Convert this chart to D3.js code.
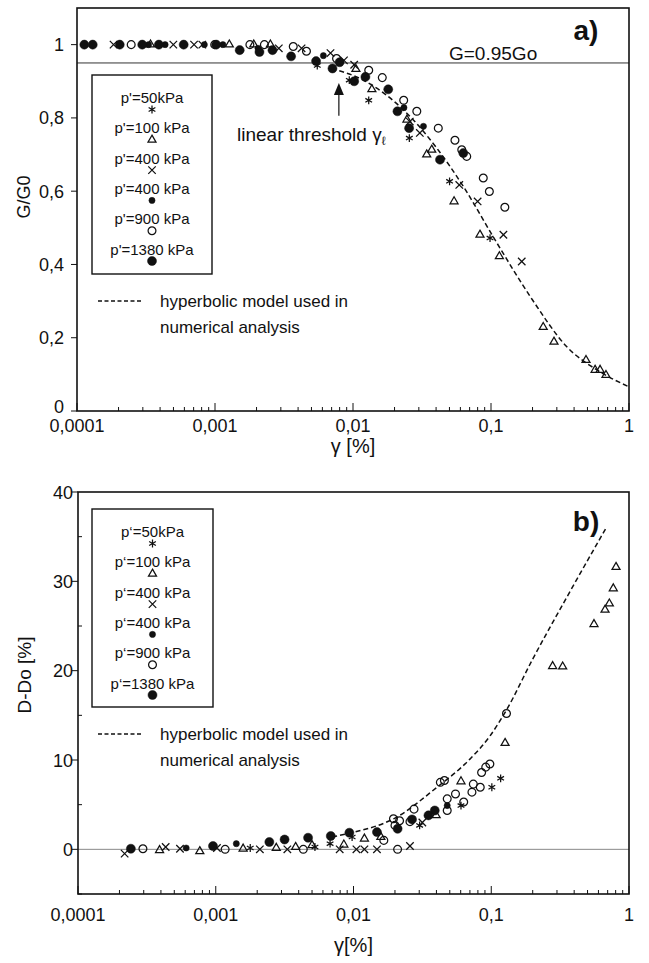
<!DOCTYPE html>
<html>
<head>
<meta charset="utf-8">
<script src="https://cdn.jsdelivr.net/npm/d3@7"></script>
<style>
body{margin:0;background:#fff}
svg{display:block}
</style>
</head>
<body>
<div id="viz"></div>
<script>
//Chart data (gamma in %)

let xTickValues = [0.0001, 0.001, 0.01, 0.1, 1]
let xTickLabels = ["0,0001", "0,001", "0,01", "0,1", "1"]

let legendA = ["p'=50kPa", "p'=100 kPa", "p'=400 kPa", "p'=400 kPa", "p'=900 kPa", "p'=1380 kPa"]
let legendB = ["p\u2018=50kPa", "p\u2018=100 kPa", "p\u2018=400 kPa", "p\u2018=400 kPa", "p\u2018=900 kPa", "p\u2018=1380 kPa"]
let markerTypes = ["asterisk", "triangle", "times", "dotSmall", "circle", "dotBig"]

// a) G/G0
let gTicks = [0, 0.2, 0.4, 0.6, 0.8, 1]
let gTickLabels = ["0", "0,2", "0,4", "0,6", "0,8", "1"]

let gg50 = [[0.000204,1.0],[0.00551,0.943],[0.0094,0.903],[0.013,0.848],[0.0256,0.745],[0.0501,0.627],[0.0984,0.472]]
let gg100 = [[0.000341,1.0],[0.00127,1.0],[0.00191,1.0],[0.00252,1.0],[0.0105,0.933],[0.0137,0.878],[0.0246,0.795],[0.0342,0.70],
             [0.0372,0.713],[0.054,0.572],[0.0832,0.481],[0.115,0.422],[0.239,0.229],[0.286,0.189],[0.488,0.139],[0.568,0.112],[0.617,0.112],[0.681,0.098]]
let gg400x = [[0.000184,1.0],[0.000499,1.0],[0.000705,1.0],[0.000809,1.0],[0.0029,0.99],[0.00424,0.99],[0.00687,0.977],[0.0086,0.957],
              [0.0102,0.945],[0.0258,0.79],[0.0305,0.759],[0.0589,0.617],[0.08,0.572],[0.123,0.481],[0.167,0.408]]
let gg400f = [[0.00033,1.0],[0.000435,1.0],[0.000837,1.0],[0.00114,1.0],[0.00205,0.99],[0.0061,0.97],[0.0234,0.828],[0.0324,0.777]]
let gg900 = [[0.000247,1.0],[0.000995,1.0],[0.00179,1.0],[0.00228,1.0],[0.00369,0.995],[0.0046,0.982],[0.0076,0.962],[0.013,0.93],
             [0.0163,0.91],[0.0233,0.848],[0.029,0.818],[0.0415,0.772],[0.0548,0.739],[0.0614,0.713],[0.0667,0.695],[0.0879,0.636],[0.0973,0.599],[0.126,0.556]]
let gg1380 = [[0.000113,1.0],[0.00013,1.0],[0.000204,1.0],[0.000297,1.0],[0.000392,1.0],[0.000593,1.0],[0.00102,1.0],[0.00151,0.985],
              [0.0021,0.98],[0.00261,0.985],[0.00356,0.968],[0.0054,0.955],[0.0071,0.935],[0.008,0.952],[0.0102,0.90],[0.0123,0.912],
              [0.018,0.878],[0.021,0.818],[0.0255,0.772],[0.0427,0.686],[0.063,0.704]]
let ggModel = [[0.007,0.935],[0.0123,0.9],[0.0232,0.822],[0.04,0.72],[0.063,0.613],[0.107,0.467],[0.2,0.303],[0.353,0.176],[0.617,0.107],[1.0,0.066]]
let ggRef = 0.95
let thresholdGamma = 0.0079
let thresholdArrow = [0.895, 0.806]

// b) D-Do
let dTicks = [0, 10, 20, 30, 40]
let dTickLabels = ["0", "10", "20", "30", "40"]
let dMinorTicks = [-5, 5, 15, 25, 35]

let dd50 = [[0.00178,0.15],[0.00525,0.26],[0.00676,0.63],[0.00977,1.38],[0.0302,2.68],[0.0603,4.9],[0.101,6.95],[0.117,7.95]]
let dd100 = [[0.000391,-0.1],[0.000766,-0.22],[0.00158,0.07],[0.00275,0.15],[0.0038,0.26],[0.005,0.45],[0.00851,0.52],[0.012,1.19],
             [0.0158,1.38],[0.0398,3.8],[0.0603,7.6],[0.126,11.9],[0.279,20.5],[0.33,20.45],[0.557,25.2],[0.67,26.8],[0.72,27.5],[0.769,29.2],[0.805,31.6]]
let dd400x = [[0.000218,-0.48],[0.000433,0.26],[0.00055,0.07],[0.00102,0.15],[0.00209,0],[0.00331,0],[0.00794,0],[0.0105,0],
              [0.012,0],[0.0148,0],[0.0257,0.37],[0.0316,3.0]]
let dd400f = [[0.00061,0.15],[0.00141,0.63],[0.0479,4.9]]
let dd900 = [[0.000296,0.07],[0.00117,0],[0.00432,0],[0.0166,1.0],[0.0209,0],[0.0195,3.42],[0.02,2.68],[0.0216,3.2],[0.0257,3.1],
             [0.0275,4.5],[0.0427,7.5],[0.0457,7.7],[0.0479,5.65],[0.0479,4.35],[0.055,6.2],[0.0631,5.3],[0.0724,6.4],[0.0741,7.3],
             [0.0832,6.95],[0.0851,8.6],[0.0912,9.2],[0.0977,9.55],[0.129,15.2]]
let dd1380 = [[0.000242,0.07],[0.000955,0.37],[0.00245,0.82],[0.00316,1.1],[0.00468,1.3],[0.00684,1.49],[0.00933,1.86],[0.0148,1.93],
              [0.0209,2.3],[0.0266,3.35],[0.035,3.8],[0.0389,4.35]]
let ddModel = [[0.007,1.4],[0.01,1.9],[0.02,3.5],[0.04,6.9],[0.07,10.1],[0.098,12.7],[0.129,15.6],[0.2,21.3],[0.353,28.2],[0.689,36.1]]
let ddRef = 0

//Layout settings
let width = 649
let height = 963
let font = "'Liberation Sans', Arial, Helvetica, sans-serif"
let ink = "#111"

let svg = d3.select('#viz').append('svg').attr("width", width).attr("height", height)

let symbols = {
    asterisk: d3.symbol().type(d3.symbolAsterisk).size(42),
    triangle: d3.symbol().type(d3.symbolTriangle2).size(46),
    times: d3.symbol().type(d3.symbolTimes).size(38),
    dotSmall: d3.symbol().type(d3.symbolCircle).size(30),
    circle: d3.symbol().type(d3.symbolCircle).size(48),
    dotBig: d3.symbol().type(d3.symbolCircle).size(64)
}

function drawMarker(g, type, px, py){
    let filled = (type == "dotSmall" || type == "dotBig")
    g.append("path").attr("d", symbols[type]()).attr("transform", `translate(${px},${py})`)
        .attr("fill", filled ? ink : "none").attr("stroke", ink).attr("stroke-width", filled ? 0.5 : 1.25)
}

function addText(g, str, px, py, size, anchor = "start", weight = "normal"){
    return g.append("text").text(str).attr("x", px).attr("y", py).attr("font-family", font)
        .attr("font-size", size).attr("font-weight", weight).attr("text-anchor", anchor).attr("fill", ink)
}

function drawPanel(p){
    let g = svg.append("g")
    let x = d3.scaleLog().domain([0.0001, 1]).range([p.left, p.right])
    let y = d3.scaleLinear().domain(p.yDomain).range([p.bottom, p.top])

    //Reference line
    g.append("line").attr("x1", p.left).attr("x2", p.right).attr("y1", y(p.ref)).attr("y2", y(p.ref))
        .attr("stroke", p.refColor).attr("stroke-width", 1)

    //Log ticks along the bottom, pointing in
    x.ticks().forEach(t => {
        let major = Math.abs(Math.log10(t) - Math.round(Math.log10(t))) < 1e-6
        g.append("line").attr("x1", x(t)).attr("x2", x(t)).attr("y1", p.bottom).attr("y2", p.bottom - (major ? 8 : 4))
            .attr("stroke", ink).attr("stroke-width", 1)
    })
    xTickValues.forEach((t, i) => {
        addText(g, xTickLabels[i], x(t), p.xLabelY, 18, "middle")
    })
    addText(g, p.xTitle, (p.left + p.right) / 2, p.xTitleY, 20, "middle")

    //Y ticks pointing out, minor ones pointing in
    p.yTicks.forEach((t, i) => {
        g.append("line").attr("x1", p.left - 6).attr("x2", p.left).attr("y1", y(t)).attr("y2", y(t)).attr("stroke", ink)
        addText(g, p.yLabels[i], p.yLabelX, y(t) + 6.5 - (i == 0 ? p.zeroLift : 0), 18, "end")
    })
    p.yMinor.forEach(t => {
        g.append("line").attr("x1", p.left).attr("x2", p.left + 4).attr("y1", y(t)).attr("y2", y(t)).attr("stroke", ink)
    })
    addText(g, p.yTitle, 0, 0, p.yTitleSize, "middle").attr("transform", `translate(${p.yTitleX},${p.yTitleY}) rotate(-90)`)

    //Model curve
    let line = d3.line().x(d => x(d[0])).y(d => y(d[1])).curve(d3.curveMonotoneX)
    g.append("path").attr("d", line(p.model)).attr("fill", "none").attr("stroke", ink)
        .attr("stroke-width", 1.5).attr("stroke-dasharray", "5,3")

    //Measured points
    p.series.forEach((s, i) => {
        s.forEach(d => drawMarker(g, markerTypes[i], x(d[0]), y(d[1])))
    })

    //Frame
    g.append("rect").attr("x", p.left).attr("y", p.top).attr("width", p.right - p.left).attr("height", p.bottom - p.top)
        .attr("fill", "none").attr("stroke", ink).attr("stroke-width", 1.6)

    //Legend box
    g.append("rect").attr("x", p.legend[0]).attr("y", p.legend[1]).attr("width", p.legend[2]).attr("height", p.legend[3])
        .attr("fill", "white").attr("stroke", ink).attr("stroke-width", 1.4)
    let cx = p.legend[0] + p.legend[2] / 2
    p.names.forEach((name, i) => {
        addText(g, name, cx, p.legendTextY + i * 30.3 + 5, 15, "middle")
        drawMarker(g, markerTypes[i], cx, p.legendTextY + i * 30.3 + 11.5)
    })

    //Model legend
    g.append("line").attr("x1", 98).attr("x2", 143).attr("y1", p.modelY).attr("y2", p.modelY)
        .attr("stroke", ink).attr("stroke-width", 1.3).attr("stroke-dasharray", "4,2.5")
    addText(g, "hyperbolic model used in", 160, p.modelY + 6, 17)
    addText(g, "numerical analysis", 160, p.modelY + 32, 17)

    addText(g, p.tag, 586, p.tagY, 28, "middle", "bold")

    return {g: g, x: x, y: y}
}

//Panel a)
let pa = drawPanel({
    left: 77, right: 629, top: 8, bottom: 411, yDomain: [0, 1.1],
    ref: ggRef, refColor: "#333",
    yTicks: gTicks, yLabels: gTickLabels, yMinor: [], yLabelX: 64, zeroLift: 5,
    xLabelY: 432, xTitle: "\u03b3 [%]", xTitleY: 453,
    yTitle: "G/G0", yTitleX: 30, yTitleY: 197, yTitleSize: 18,
    model: ggModel, series: [gg50, gg100, gg400x, gg400f, gg900, gg1380],
    legend: [92, 75, 120, 199], names: legendA, legendTextY: 98,
    modelY: 301, tag: "a)", tagY: 40
})

addText(pa.g, "G=0.95Go", 449, pa.y(ggRef) - 3, 19)

//Linear threshold arrow
let ax = pa.x(thresholdGamma)
pa.g.append("line").attr("x1", ax).attr("x2", ax).attr("y1", pa.y(thresholdArrow[1])).attr("y2", pa.y(thresholdArrow[0]) + 10)
    .attr("stroke", ink).attr("stroke-width", 1.2)
pa.g.append("path").attr("d", d3.line()([[ax, pa.y(thresholdArrow[0])], [ax + 5, pa.y(thresholdArrow[0]) + 12], [ax - 5, pa.y(thresholdArrow[0]) + 12]]) + "Z")
    .attr("fill", ink)
let lt = addText(pa.g, "linear threshold \u03b3", 237, 141, 19)
lt.append("tspan").text("\u2113").attr("font-size", 12).attr("dy", 4)

//Panel b)
let pb = drawPanel({
    left: 78, right: 629, top: 492, bottom: 894, yDomain: [-5, 40],
    ref: ddRef, refColor: "#888",
    yTicks: dTicks, yLabels: dTickLabels, yMinor: dMinorTicks, yLabelX: 73, zeroLift: 0,
    xLabelY: 921, xTitle: "\u03b3[%]", xTitleY: 952,
    yTitle: "D-Do [%]", yTitleX: 31, yTitleY: 675, yTitleSize: 19,
    model: ddModel, series: [dd50, dd100, dd400x, dd400f, dd900, dd1380],
    legend: [92, 509, 121, 198], names: legendB, legendTextY: 532,
    modelY: 734, tag: "b)", tagY: 531
})
</script>
</body>
</html>
